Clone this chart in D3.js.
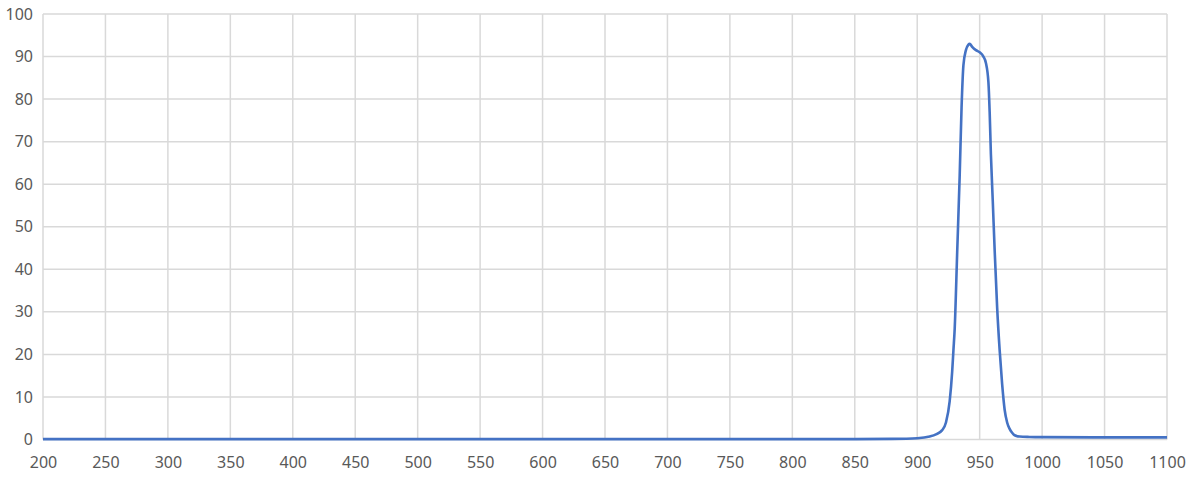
<!DOCTYPE html>
<html>
<head>
<meta charset="utf-8">
<script src="https://cdn.jsdelivr.net/npm/d3@7"></script>
<style>
  body { margin: 0; background: #fff; }
  svg { display: block; }
  .tick text { font-family: "Noto Sans", sans-serif; font-size: 16px; fill: #595959; }
</style>
</head>
<body>
<svg id="canvas" width="1189" height="481"></svg>
<script>
// wavelength (nm) and transmission (%)
const wavelength = [200, 400, 600, 800, 850, 880, 900, 910, 915, 920, 923, 926, 928, 929, 930, 932, 934, 935.5, 937, 939, 941, 942, 944, 947, 950, 953, 955, 957, 958, 959, 960.5, 962, 964, 966, 968, 970, 972, 974, 976, 978, 982, 990, 1000, 1050, 1100]
const transmission = [0.1, 0.1, 0.1, 0.1, 0.1, 0.15, 0.3, 0.7, 1.2, 2.2, 4, 9, 16, 21, 26, 44, 62, 78, 88, 91.5, 92.8, 93, 92.3, 91.5, 91, 90, 88.5, 84, 77, 67, 56, 44.5, 31, 21, 13, 7, 4, 2.5, 1.6, 1.0, 0.7, 0.6, 0.55, 0.5, 0.5]
const xTicks = d3.range(200, 1101, 50)
const yTicks = d3.range(0, 101, 10)

const margin = {top: 14, left: 43, right: 22, bottom: 41.5}
const width = 1189 - margin.left - margin.right
const height = 481 - margin.top - margin.bottom

let canvas = d3.select('#canvas')
let g = canvas.append('g').attr('transform', `translate(${margin.left},${margin.top})`)

let x = d3.scaleLinear().domain([200, 1100]).range([0, width])
let y = d3.scaleLinear().domain([0, 100]).range([height, 0])

// grid
g.append('g')
  .selectAll('line.h')
  .data(yTicks)
  .enter()
  .append('line')
  .attr('x1', 0).attr('x2', width)
  .attr('y1', d => y(d)).attr('y2', d => y(d))
  .attr('stroke', '#d9d9d9').attr('stroke-width', 1.5)

g.append('g')
  .selectAll('line.v')
  .data(xTicks)
  .enter()
  .append('line')
  .attr('y1', 0).attr('y2', height)
  .attr('x1', d => x(d)).attr('x2', d => x(d))
  .attr('stroke', '#d9d9d9').attr('stroke-width', 1.5)

// axes (labels only)
let yAxis = g.append('g')
  .call(d3.axisLeft(y).tickValues(yTicks).tickSize(0).tickPadding(10).tickFormat(d3.format('d')))
yAxis.select('.domain').remove()

let xAxis = g.append('g')
  .attr('transform', `translate(0,${height})`)
  .call(d3.axisBottom(x).tickValues(xTicks).tickSize(0).tickPadding(17).tickFormat(d3.format('d')))
xAxis.select('.domain').remove()

// curve
let line = d3.line()
  .x((d, i) => x(wavelength[i]))
  .y(d => y(d))
  .curve(d3.curveMonotoneX)

g.append('path')
  .datum(transmission)
  .attr('d', line)
  .attr('fill', 'none')
  .attr('stroke', '#4472c4')
  .attr('stroke-width', 2.6)
  .attr('stroke-linejoin', 'round')
</script>
</body>
</html>
